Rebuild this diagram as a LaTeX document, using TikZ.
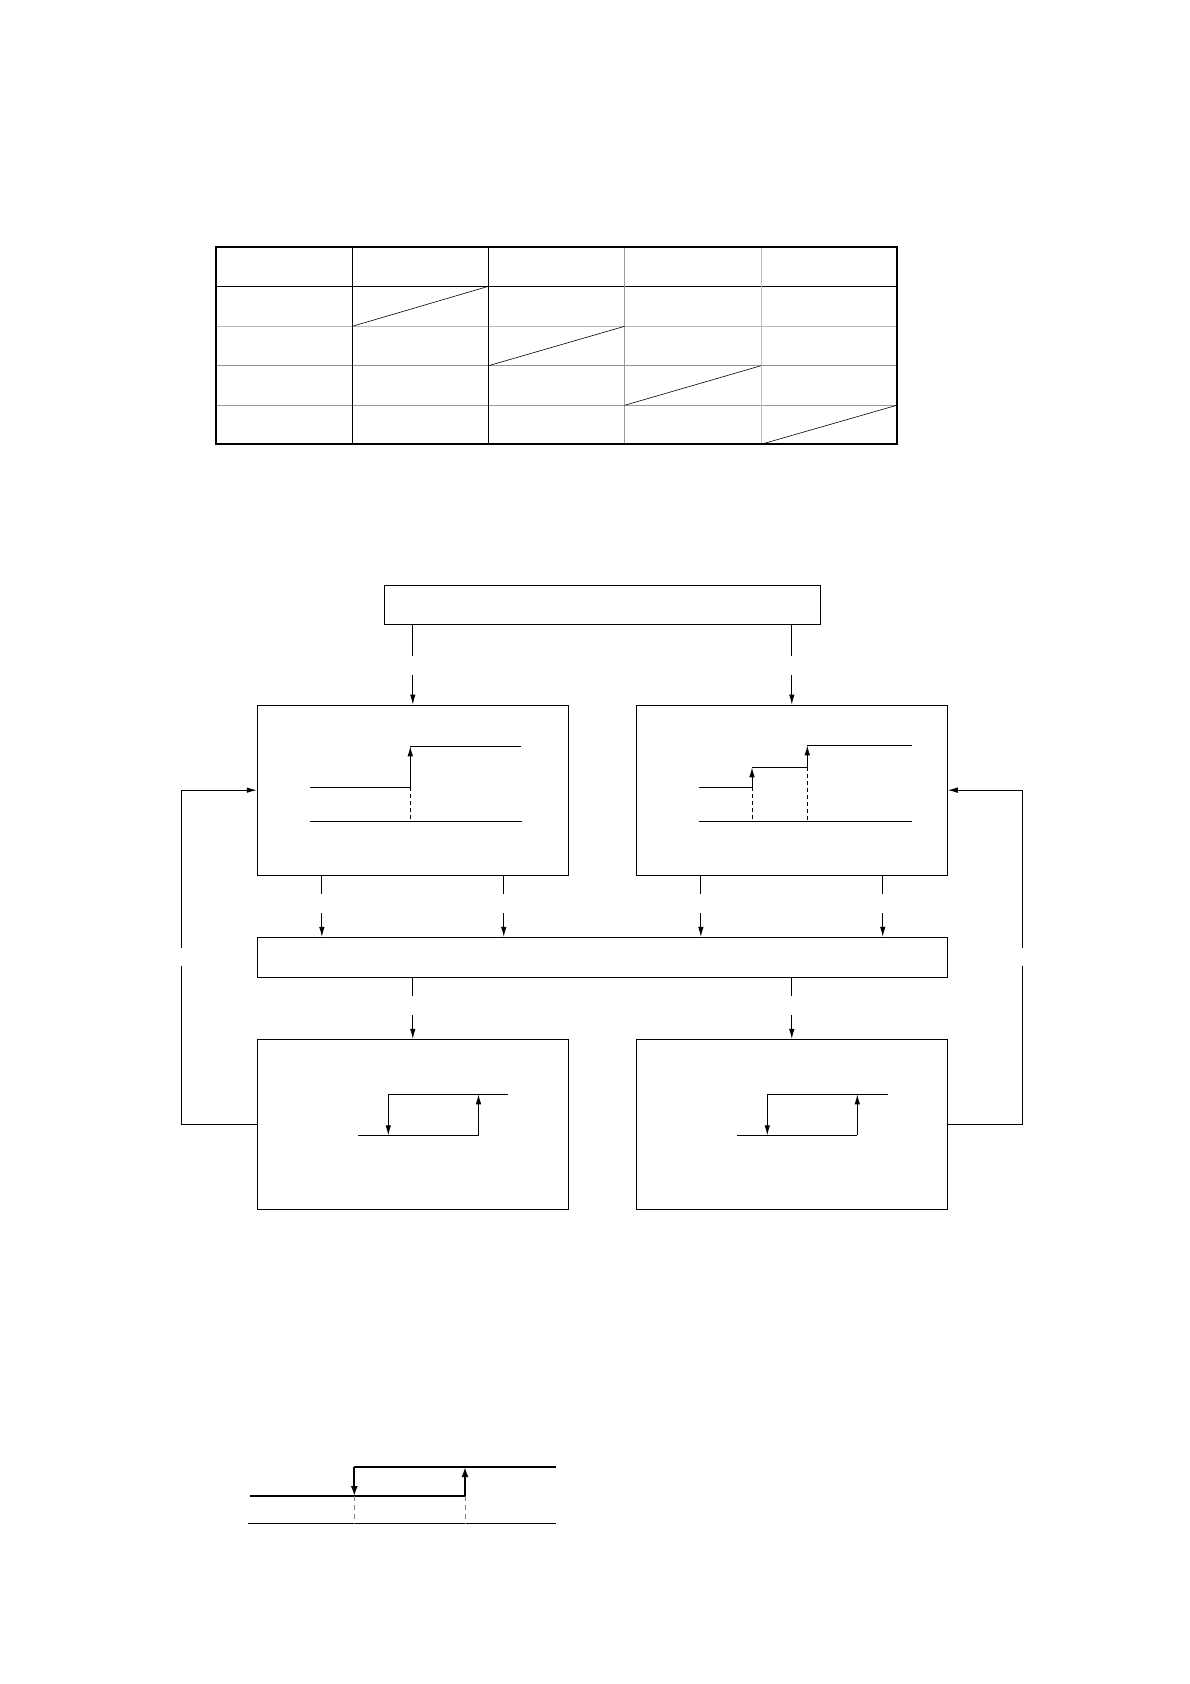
\documentclass[tikz,border=0pt]{standalone}
\usetikzlibrary{arrows.meta,calc}
\begin{document}
\begin{tikzpicture}[x=1pt,y=-1pt,
  box/.style={draw,line width=0.9pt,rectangle,inner sep=0pt},
  conn/.style={line width=0.9pt,-{Latex[length=10pt,width=5.5pt]}},
  dconnA/.style={conn,dash pattern=on 31pt off 19pt on 60pt},
  dconnB/.style={conn,dash pattern=on 18.5pt off 18.5pt on 60pt},
  wave/.style={line width=0.9pt},
  warrow/.style={line width=0.9pt,-{Latex[length=10pt,width=5.5pt]}},
  wdash/.style={line width=0.9pt,dash pattern=on 4pt off 3pt},
  thickwave/.style={line width=1.8pt},
  thickarrow/.style={line width=1.8pt,-{Latex[length=10pt,width=7pt]}},
  tabouter/.style={line width=1.8pt},
  tabline/.style={line width=0.9pt},
  diag/.style={line width=0.6pt}
]
\useasboundingbox (0,0) rectangle (1190,1684);

% ---------------- table ----------------
\draw[tabline] (216.3,286.3) -- (896.7,286.3);
\draw[tabline,gray!55] (216.3,326.3) -- (896.7,326.3);
\draw[tabline,gray!85] (216.3,365.7) -- (896.7,365.7);
\draw[tabline,gray!80] (216.3,405.3) -- (896.7,405.3);
\draw[tabline] (352.3,246.7) -- (352.3,444.3);
\draw[tabline] (488.5,246.7) -- (488.5,444.3);
\draw[tabline,gray!80] (624.6,246.7) -- (624.6,444.3);
\draw[tabline,gray!50] (761,246.7) -- (761,444.3);
\draw[diag] (352.3,326.3) -- (488.5,286.3);
\draw[diag] (488.5,365.7) -- (624.6,326.3);
\draw[diag] (624.6,405.3) -- (761,365.7);
\draw[diag] (761,444.3) -- (896.7,405.3);
\draw[tabouter] (216.3,246.7) rectangle (896.7,444.3);

% ---------------- block diagram ----------------
\node[box,minimum width=436.4pt,minimum height=39pt] (topbar) at (602.5,604.8) {};
\node[box,minimum width=311pt,minimum height=170.3pt] (box1) at (412.8,790.15) {};
\node[box,minimum width=311pt,minimum height=170.3pt] (box2) at (791.8,790.15) {};
\node[box,minimum width=690pt,minimum height=40pt] (midbar) at (602.3,957.3) {};
\node[box,minimum width=311pt,minimum height=170pt] (box3) at (412.8,1124.3) {};
\node[box,minimum width=311pt,minimum height=170pt] (box4) at (791.8,1124.3) {};

% top bar -> boxes
\draw[dconnA] (box1.north |- topbar.south) -- (box1.north);
\draw[dconnA] (box2.north |- topbar.south) -- (box2.north);

% boxes -> mid bar
\coordinate (b1a) at ($(box1.south west)+(65,0)$);
\coordinate (b1b) at ($(box1.south east)+(-65,0)$);
\coordinate (b2a) at ($(box2.south west)+(65,0)$);
\coordinate (b2b) at ($(box2.south east)+(-65,0)$);
\draw[dconnB] (b1a) -- (b1a |- midbar.north);
\draw[dconnB] (b1b) -- (b1b |- midbar.north);
\draw[dconnB] (b2a) -- (b2a |- midbar.north);
\draw[dconnB] (b2b) -- (b2b |- midbar.north);

% mid bar -> lower boxes
\draw[dconnB] (box3.north |- midbar.south) -- (box3.north);
\draw[dconnB] (box4.north |- midbar.south) -- (box4.north);

% feedback loops
\draw[conn,dash pattern=on 233.5pt off 18.3pt on 400pt] (box3.west) -- ++(-75,0) |- (box1.west);
\draw[conn,dash pattern=on 233.5pt off 18.3pt on 400pt] (box4.east) -- ++(75,0) |- (box2.east);

% box1 content
\draw[wave] (310,821.3) -- (521.7,821.3);
\draw[wave] (310,787.3) -- (410.3,787.3);
\draw[warrow] (410.3,787.3) -- (410.3,746.3);
\draw[wave] (410.3,746.3) -- (521,746.3);
\draw[wdash] (410.3,787.3) -- (410.3,821.3);

% box2 content
\draw[wave] (699,821.3) -- (912,821.3);
\draw[wave] (699,787.3) -- (752,787.3);
\draw[warrow] (752,787.3) -- (752,767.3);
\draw[wave] (752,767.3) -- (807.3,767.3);
\draw[warrow] (807.3,767.3) -- (807.3,745.3);
\draw[wave] (807.3,745.3) -- (912,745.3);
\draw[wdash] (752,787.3) -- (752,821.3);
\draw[wdash] (807.3,767.3) -- (807.3,821.3);

% box3 content
\draw[wave] (388.3,1094.3) -- (507.7,1094.3);
\draw[warrow] (388.3,1094.3) -- (388.3,1135.3);
\draw[wave] (358,1135.3) -- (478.5,1135.3);
\draw[warrow] (478.5,1135.3) -- (478.5,1094.3);

% box4 content
\draw[wave] (767.3,1094.3) -- (887.7,1094.3);
\draw[warrow] (767.3,1094.3) -- (767.3,1135.3);
\draw[wave] (737,1135.3) -- (857.3,1135.3);
\draw[warrow] (857.3,1135.3) -- (857.3,1094.3);

% ---------------- bottom hysteresis ----------------
\draw[thickwave] (354.3,1467) -- (556,1467);
\draw[thickarrow] (354.3,1467) -- (354.3,1496);
\draw[thickwave] (250,1496) -- (465,1496);
\draw[thickarrow] (465,1496) -- (465,1467);
\draw[line width=0.9pt] (248.3,1523.3) -- (556,1523.3);
\draw[line width=0.8pt,gray,dash pattern=on 5pt off 4pt] (354.3,1496) -- (354.3,1523.3);
\draw[line width=0.8pt,gray,dash pattern=on 5pt off 4pt] (465,1496) -- (465,1523.3);
\end{tikzpicture}
\end{document}
